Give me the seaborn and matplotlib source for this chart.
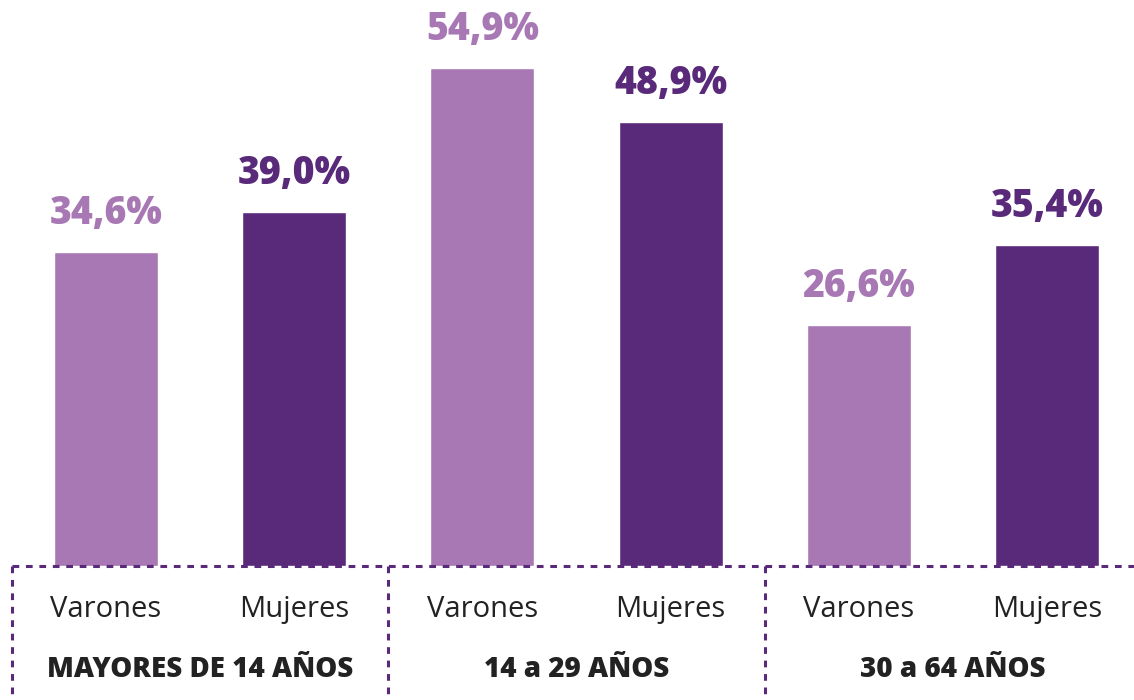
import pandas as pd
import matplotlib.pyplot as plt
import seaborn as sns

grupos = ['MAYORES DE 14 AÑOS', '14 a 29 AÑOS', '30 a 64 AÑOS']
sexos = ['Varones', 'Mujeres']
varones = [34.6, 54.9, 26.6]
mujeres = [39.0, 48.9, 35.4]

light = '#A878B4'
dark = '#5A2A7A'
text_color = '#222222'

rows = []
for g, v, m in zip(grupos, varones, mujeres):
    rows.append({'grupo': g, 'sexo': 'Varones', 'valor': v})
    rows.append({'grupo': g, 'sexo': 'Mujeres', 'valor': m})
data = pd.DataFrame(rows)
data['key'] = data['grupo'] + '|' + data['sexo']

sns.set_style('white')
plt.rcParams['font.family'] = ['Open Sans', 'DejaVu Sans']

fig = plt.figure(figsize=(11.34, 7), dpi=100)
ax = fig.add_axes([0, 0, 1, 1])

sns.barplot(data=data, x='key', y='valor', hue='sexo', palette={'Varones': light, 'Mujeres': dark},
            dodge=False, width=0.553, legend=False, ax=ax, saturation=1)

ax.set_xlim(-0.563, 5.462)
ax.set_ylim(-14.77, 62.4)
ax.axis('off')

# value labels
for i, row in data.reset_index(drop=True).iterrows():
    color = light if row['sexo'] == 'Varones' else dark
    ax.text(i, row['valor'] + 2.1, f"{row['valor']:.1f}%".replace('.', ','),
            ha='center', va='bottom', fontsize=27, fontweight=800, color=color)
    ax.text(i, -4.8, row['sexo'], ha='center', va='center', fontsize=21, color=text_color)

for j, g in enumerate(grupos):
    ax.text(2 * j + 0.5, -11.4, g, ha='center', va='center', fontsize=20,
            fontweight=800, color=text_color)

# dotted frame
dash = dict(color=dark, linewidth=2.2, linestyle=(0, (2.2, 2.2)), clip_on=False)
ax.plot([-0.5, 5.47], [0, 0], **dash)
for xv in [-0.5, 1.5, 3.5]:
    ax.plot([xv, xv], [0, -14.77], **dash)

fig.savefig('out.png', dpi=100)
